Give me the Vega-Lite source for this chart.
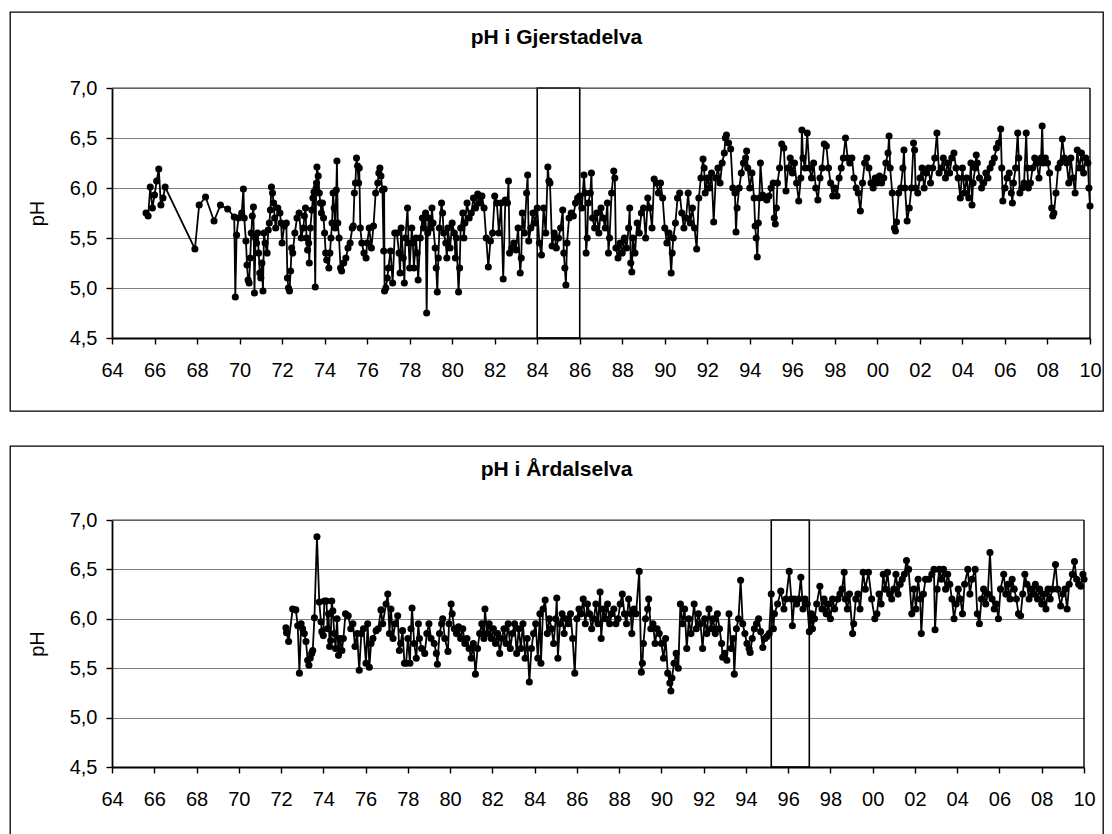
{
"$schema":"https://vega.github.io/schema/vega-lite/v6.json",
"padding":{"left":9,"top":11,"right":0,"bottom":0},
"background":"white",
"spacing":33,
"config":{
 "view":{"stroke":"#000000","strokeWidth":1.3},
 "font":"Liberation Sans",
 "axis":{"labelFont":"Liberation Sans","labelFontSize":20,"labelColor":"#000000","titleFont":"Liberation Sans","titleFontSize":20,"titleFontWeight":"normal","titleColor":"#000000","domainColor":"#000000","domainWidth":1.8,"tickColor":"#000000","tickWidth":1.4,"tickSize":6,"gridColor":"#808080","gridWidth":1},
 "title":{"font":"Liberation Sans","fontSize":21,"fontWeight":"bold","color":"#000000","anchor":"middle","baseline":"alphabetic"}
},
"datasets":{
"g":[
{"t":65.6,"p":5.75},{"t":65.7,"p":5.72},{"t":65.8,"p":6.01},{"t":65.9,"p":5.8},{"t":66.0,"p":5.93},{"t":66.1,"p":6.07},{"t":66.2,"p":6.19},{"t":66.3,"p":5.83},{"t":66.4,"p":5.9},{"t":66.5,"p":6.01},
{"t":67.9,"p":5.39},{"t":68.1,"p":5.83},{"t":68.4,"p":5.91},{"t":68.8,"p":5.67},{"t":69.1,"p":5.83},{"t":69.44,"p":5.79},{"t":69.75,"p":5.71},{"t":69.8,"p":4.91},{"t":69.86,"p":5.53},{"t":69.95,"p":5.7},
{"t":70.1,"p":5.75},{"t":70.18,"p":5.99},{"t":70.22,"p":5.7},{"t":70.3,"p":5.47},{"t":70.35,"p":5.23},{"t":70.4,"p":5.08},{"t":70.45,"p":5.05},{"t":70.5,"p":5.3},{"t":70.55,"p":5.55},{"t":70.6,"p":5.72},{"t":70.65,"p":5.81},{"t":70.7,"p":4.95},{"t":70.75,"p":5.5},{"t":70.8,"p":5.45},{"t":70.85,"p":5.55},{"t":70.9,"p":5.35},{"t":70.95,"p":5.15},{"t":71.0,"p":5.1},{"t":71.05,"p":5.25},{"t":71.1,"p":4.97},{"t":71.15,"p":5.55},{"t":71.2,"p":5.45},{"t":71.3,"p":5.35},{"t":71.35,"p":5.58},{"t":71.4,"p":5.65},{"t":71.45,"p":5.78},{"t":71.5,"p":6.01},{"t":71.55,"p":5.95},{"t":71.6,"p":5.85},{"t":71.65,"p":5.7},{"t":71.7,"p":5.6},{"t":71.8,"p":5.8},{"t":71.9,"p":5.75},{"t":71.95,"p":5.65},{"t":72.0,"p":5.45},{"t":72.1,"p":5.62},{"t":72.2,"p":5.65},{"t":72.25,"p":5.1},{"t":72.3,"p":5.0},{"t":72.35,"p":4.97},{"t":72.4,"p":5.17},{"t":72.45,"p":5.4},{"t":72.5,"p":5.35},{"t":72.6,"p":5.55},{"t":72.7,"p":5.7},{"t":72.8,"p":5.75},{"t":72.9,"p":5.5},
{"t":73.0,"p":5.6},{"t":73.05,"p":5.72},{"t":73.1,"p":5.8},{"t":73.15,"p":5.5},{"t":73.2,"p":5.38},{"t":73.25,"p":5.45},{"t":73.28,"p":5.25},{"t":73.33,"p":5.6},{"t":73.4,"p":5.78},{"t":73.45,"p":5.9},{"t":73.5,"p":5.96},{"t":73.56,"p":5.01},{"t":73.6,"p":6.0},{"t":73.62,"p":6.05},{"t":73.64,"p":6.21},{"t":73.7,"p":6.12},{"t":73.75,"p":5.95},{"t":73.8,"p":5.85},{"t":73.85,"p":5.75},{"t":73.9,"p":5.85},{"t":73.95,"p":5.7},{"t":74.0,"p":5.55},{"t":74.05,"p":5.35},{"t":74.1,"p":5.28},{"t":74.2,"p":5.2},{"t":74.25,"p":5.35},{"t":74.3,"p":5.5},{"t":74.35,"p":5.65},{"t":74.4,"p":5.95},{"t":74.45,"p":5.8},{"t":74.5,"p":5.6},{"t":74.55,"p":5.98},{"t":74.58,"p":6.27},{"t":74.62,"p":5.65},{"t":74.68,"p":5.5},{"t":74.75,"p":5.2},{"t":74.8,"p":5.17},{"t":74.9,"p":5.25},{"t":75.0,"p":5.3},{"t":75.1,"p":5.4},{"t":75.2,"p":5.45},{"t":75.3,"p":5.6},{"t":75.35,"p":5.62},{"t":75.4,"p":5.95},{"t":75.45,"p":6.05},{"t":75.5,"p":6.3},{"t":75.55,"p":6.22},{"t":75.6,"p":6.05},{"t":75.63,"p":6.2},{"t":75.68,"p":5.6},{"t":75.75,"p":5.45},{"t":75.85,"p":5.35},{"t":75.95,"p":5.3},{"t":76.0,"p":5.45},{"t":76.1,"p":5.6},{"t":76.2,"p":5.4},{"t":76.3,"p":5.62},{"t":76.4,"p":5.95},{"t":76.5,"p":6.05},{"t":76.55,"p":6.15},{"t":76.6,"p":6.2},{"t":76.65,"p":6.12},{"t":76.72,"p":5.98},{"t":76.78,"p":5.37},{"t":76.8,"p":5.99},{"t":76.82,"p":4.97},{"t":76.88,"p":5.0},{"t":76.95,"p":5.1},{"t":77.0,"p":5.2},{"t":77.1,"p":5.37},{"t":77.2,"p":5.05},{"t":77.3,"p":5.55},
{"t":77.4,"p":5.55},{"t":77.5,"p":5.35},{"t":77.55,"p":5.15},{"t":77.6,"p":5.6},{"t":77.7,"p":5.3},{"t":77.75,"p":5.05},{"t":77.8,"p":5.5},{"t":77.9,"p":5.8},{"t":77.95,"p":5.45},{"t":78.0,"p":5.2},{"t":78.1,"p":5.6},{"t":78.15,"p":5.45},{"t":78.2,"p":5.2},{"t":78.3,"p":5.5},{"t":78.35,"p":5.35},{"t":78.4,"p":5.08},{"t":78.5,"p":5.5},{"t":78.6,"p":5.7},{"t":78.65,"p":5.6},{"t":78.75,"p":5.75},{"t":78.8,"p":4.75},{"t":78.85,"p":5.55},{"t":78.9,"p":5.7},{"t":79.0,"p":5.6},{"t":79.05,"p":5.8},{"t":79.1,"p":5.65},{"t":79.2,"p":5.4},{"t":79.25,"p":5.2},{"t":79.3,"p":4.96},{"t":79.35,"p":5.3},{"t":79.4,"p":5.6},{"t":79.5,"p":5.85},{"t":79.55,"p":5.75},{"t":79.6,"p":5.55},{"t":79.7,"p":5.45},{"t":79.75,"p":5.3},{"t":79.8,"p":5.6},{"t":79.9,"p":5.4},{"t":80.0,"p":5.65},{"t":80.1,"p":5.55},{"t":80.15,"p":5.3},{"t":80.2,"p":5.5},{"t":80.3,"p":4.96},{"t":80.35,"p":5.2},{"t":80.4,"p":5.6},{"t":80.5,"p":5.75},{"t":80.55,"p":5.5},{"t":80.6,"p":5.65},{"t":80.7,"p":5.85},{"t":80.8,"p":5.7},{"t":80.9,"p":5.75},{"t":81.0,"p":5.9},{"t":81.1,"p":5.8},{"t":81.2,"p":5.94},{"t":81.3,"p":5.85},{"t":81.4,"p":5.92},{"t":81.5,"p":5.8},{"t":81.6,"p":5.5},{"t":81.7,"p":5.21},{"t":81.8,"p":5.47},{"t":81.9,"p":5.55},{"t":82.0,"p":5.92},{"t":82.1,"p":5.85},{"t":82.2,"p":5.55},{"t":82.3,"p":5.85},{"t":82.4,"p":5.09},{"t":82.5,"p":5.88},{"t":82.6,"p":5.85},{"t":82.65,"p":6.07},{"t":82.7,"p":5.35},{"t":82.8,"p":5.4},{"t":82.9,"p":5.45},{"t":83.0,"p":5.38},{"t":83.1,"p":5.6},{"t":83.2,"p":5.15},{"t":83.25,"p":5.3},{"t":83.3,"p":5.75},{"t":83.4,"p":5.55},{"t":83.5,"p":5.95},{"t":83.55,"p":6.13},{"t":83.6,"p":5.47},{"t":83.7,"p":5.6},{"t":83.8,"p":5.75},{"t":83.9,"p":5.65},{"t":84.0,"p":5.8},{"t":84.1,"p":5.45},{"t":84.2,"p":5.33},{"t":84.3,"p":5.8},{"t":84.4,"p":5.55},{"t":84.5,"p":6.21},{"t":84.55,"p":6.07},{"t":84.6,"p":6.05},{"t":84.7,"p":5.42},{"t":84.8,"p":5.55},{"t":84.9,"p":5.4},{"t":85.0,"p":5.5},{"t":85.1,"p":5.6},{"t":85.2,"p":5.78},{"t":85.25,"p":5.35},{"t":85.3,"p":5.2},{"t":85.35,"p":5.03},{"t":85.4,"p":5.45},{"t":85.5,"p":5.7},{"t":85.6,"p":5.75},{"t":85.7,"p":5.72},{"t":85.8,"p":5.85},{"t":85.9,"p":5.9},{"t":86.0,"p":5.92},{"t":86.1,"p":5.8},{"t":86.2,"p":6.13},{"t":86.25,"p":5.95},{"t":86.3,"p":5.35},{"t":86.35,"p":5.5},{"t":86.4,"p":5.85},{"t":86.5,"p":5.95},{"t":86.55,"p":6.15},{"t":86.6,"p":5.7},{"t":86.7,"p":5.6},{"t":86.8,"p":5.75},{"t":86.9,"p":5.55},{"t":87.0,"p":5.8},{"t":87.1,"p":5.7},{"t":87.2,"p":5.6},{"t":87.3,"p":5.85},{"t":87.35,"p":5.35},{"t":87.4,"p":5.5},{"t":87.5,"p":5.95},{"t":87.6,"p":6.17},{"t":87.65,"p":6.1},{"t":87.7,"p":5.4},{"t":87.8,"p":5.3},{"t":87.9,"p":5.45},{"t":88.0,"p":5.35},{"t":88.1,"p":5.5},{"t":88.2,"p":5.4},{"t":88.3,"p":5.6},{"t":88.35,"p":5.8},{"t":88.4,"p":5.25},{"t":88.45,"p":5.16},{"t":88.5,"p":5.5},{"t":88.6,"p":5.35},{"t":88.7,"p":5.65},{"t":88.8,"p":5.55},{"t":88.9,"p":5.75},{"t":89.0,"p":5.8},{"t":89.1,"p":5.5},{"t":89.2,"p":5.9},{"t":89.3,"p":5.8},{"t":89.4,"p":5.6},{"t":89.5,"p":6.09},{"t":89.6,"p":6.05},{"t":89.7,"p":5.95},{"t":89.8,"p":6.05},{"t":89.9,"p":5.9},{"t":90.0,"p":5.6},{"t":90.1,"p":5.45},{"t":90.2,"p":5.55},{"t":90.3,"p":5.15},{"t":90.35,"p":5.35},{"t":90.4,"p":5.5},{"t":90.5,"p":5.65},{"t":90.6,"p":5.9},{"t":90.7,"p":5.95},{"t":90.8,"p":5.75},{"t":90.9,"p":5.6},{"t":91.0,"p":5.7},{"t":91.1,"p":5.95},{"t":91.2,"p":5.65},{"t":91.3,"p":5.8},{"t":91.4,"p":5.6},{"t":91.5,"p":5.39},{"t":91.6,"p":5.9},{"t":91.7,"p":6.1},{"t":91.8,"p":6.29},{"t":91.85,"p":6.2},{"t":91.9,"p":5.95},{"t":92.0,"p":6.1},{"t":92.1,"p":6.0},{"t":92.2,"p":6.15},{"t":92.3,"p":5.66},{"t":92.4,"p":6.1},{"t":92.5,"p":6.2},{"t":92.6,"p":6.05},{"t":92.7,"p":6.25},{"t":92.8,"p":6.35},{"t":92.85,"p":6.5},{"t":92.9,"p":6.53},{"t":93.0,"p":6.45},{"t":93.1,"p":6.39},{"t":93.2,"p":6.0},{"t":93.3,"p":5.95},{"t":93.35,"p":5.56},{"t":93.4,"p":5.8},{"t":93.5,"p":6.0},{"t":93.6,"p":6.15},{"t":93.7,"p":6.25},{"t":93.8,"p":6.3},{"t":93.85,"p":6.37},{"t":93.9,"p":6.2},{"t":94.0,"p":6.0},{"t":94.1,"p":6.15},{"t":94.2,"p":5.9},{"t":94.25,"p":5.62},{"t":94.3,"p":5.5},{"t":94.35,"p":5.31},{"t":94.4,"p":5.65},{"t":94.45,"p":5.9},{"t":94.5,"p":6.25},{"t":94.6,"p":5.93},{"t":94.7,"p":5.9},{"t":94.8,"p":5.88},{"t":94.9,"p":5.92},{"t":95.0,"p":6.0},{"t":95.1,"p":6.05},{"t":95.15,"p":5.7},{"t":95.2,"p":5.64},{"t":95.25,"p":5.8},{"t":95.3,"p":6.05},{"t":95.4,"p":6.2},{"t":95.5,"p":6.44},{"t":95.6,"p":6.4},{"t":95.7,"p":5.97},{"t":95.8,"p":6.2},{"t":95.9,"p":6.3},{"t":96.0,"p":6.15},{"t":96.1,"p":6.25},{"t":96.2,"p":6.05},{"t":96.3,"p":5.87},{"t":96.4,"p":6.1},{"t":96.45,"p":6.58},{"t":96.5,"p":6.3},{"t":96.6,"p":6.2},{"t":96.7,"p":6.55},{"t":96.8,"p":6.2},{"t":96.9,"p":6.1},{"t":97.0,"p":6.25},{"t":97.1,"p":6.0},{"t":97.2,"p":5.88},{"t":97.3,"p":6.1},{"t":97.4,"p":6.2},{"t":97.5,"p":6.44},{"t":97.6,"p":6.42},{"t":97.7,"p":6.2},{"t":97.8,"p":6.05},{"t":97.9,"p":5.92},{"t":98.0,"p":6.0},{"t":98.1,"p":5.92},{"t":98.2,"p":6.1},{"t":98.3,"p":6.2},{"t":98.4,"p":6.3},{"t":98.5,"p":6.5},{"t":98.6,"p":6.3},{"t":98.7,"p":6.25},{"t":98.8,"p":6.3},{"t":98.9,"p":6.1},{"t":99.0,"p":6.0},{"t":99.1,"p":5.95},{"t":99.2,"p":5.77},{"t":99.3,"p":6.05},{"t":99.4,"p":6.25},{"t":99.5,"p":6.3},{"t":99.6,"p":6.2},{"t":99.7,"p":6.05},{"t":99.8,"p":6.0},{"t":99.9,"p":6.1},{"t":100.0,"p":6.05},{"t":100.1,"p":6.12},{"t":100.2,"p":6.05},{"t":100.3,"p":6.1},{"t":100.4,"p":6.25},{"t":100.5,"p":6.35},{"t":100.55,"p":6.52},{"t":100.6,"p":6.2},{"t":100.7,"p":5.95},{"t":100.8,"p":5.6},{"t":100.85,"p":5.57},{"t":100.9,"p":5.66},{"t":101.0,"p":5.95},{"t":101.1,"p":6.0},{"t":101.2,"p":6.2},{"t":101.25,"p":6.38},{"t":101.3,"p":6.0},{"t":101.4,"p":5.67},{"t":101.5,"p":5.8},{"t":101.6,"p":6.0},{"t":101.7,"p":6.45},{"t":101.75,"p":6.38},{"t":101.8,"p":6.0},{"t":101.9,"p":5.95},{"t":102.0,"p":6.1},{"t":102.1,"p":6.2},{"t":102.2,"p":6.0},{"t":102.3,"p":6.15},{"t":102.4,"p":6.2},{"t":102.5,"p":6.05},{"t":102.6,"p":6.2},{"t":102.7,"p":6.3},{"t":102.8,"p":6.55},{"t":102.9,"p":6.15},{"t":103.0,"p":6.2},{"t":103.1,"p":6.3},{"t":103.2,"p":6.1},{"t":103.3,"p":6.25},{"t":103.4,"p":6.15},{"t":103.5,"p":6.3},{"t":103.6,"p":6.35},{"t":103.7,"p":6.2},{"t":103.8,"p":6.1},{"t":103.9,"p":5.9},{"t":104.0,"p":6.2},{"t":104.1,"p":5.95},{"t":104.2,"p":6.1},{"t":104.3,"p":5.9},{"t":104.4,"p":6.25},{"t":104.45,"p":5.83},{"t":104.5,"p":6.05},{"t":104.6,"p":6.2},{"t":104.65,"p":6.33},{"t":104.7,"p":6.25},{"t":104.8,"p":6.1},{"t":104.9,"p":6.0},{"t":105.0,"p":6.05},{"t":105.1,"p":6.15},{"t":105.2,"p":6.1},{"t":105.3,"p":6.2},{"t":105.4,"p":6.25},{"t":105.5,"p":6.3},{"t":105.6,"p":6.4},{"t":105.7,"p":6.45},{"t":105.8,"p":6.59},{"t":105.85,"p":6.2},{"t":105.9,"p":5.87},{"t":106.0,"p":6.0},{"t":106.1,"p":6.1},{"t":106.2,"p":6.15},{"t":106.3,"p":5.95},{"t":106.35,"p":5.85},{"t":106.4,"p":6.05},{"t":106.5,"p":6.2},{"t":106.6,"p":6.55},{"t":106.65,"p":6.3},{"t":106.7,"p":5.95},{"t":106.8,"p":6.0},{"t":106.9,"p":6.05},{"t":107.0,"p":6.55},{"t":107.05,"p":6.2},{"t":107.1,"p":6.0},{"t":107.2,"p":6.05},{"t":107.3,"p":6.2},{"t":107.4,"p":6.3},{"t":107.5,"p":6.25},{"t":107.6,"p":6.1},{"t":107.7,"p":6.3},{"t":107.75,"p":6.62},{"t":107.8,"p":6.25},{"t":107.9,"p":6.3},{"t":108.0,"p":6.25},{"t":108.1,"p":6.15},{"t":108.2,"p":5.8},{"t":108.25,"p":5.72},{"t":108.3,"p":5.75},{"t":108.4,"p":5.95},{"t":108.5,"p":6.2},{"t":108.6,"p":6.25},{"t":108.7,"p":6.49},{"t":108.8,"p":6.3},{"t":108.9,"p":6.25},{"t":109.0,"p":6.05},{"t":109.1,"p":6.3},{"t":109.2,"p":6.1},{"t":109.3,"p":5.95},{"t":109.4,"p":6.38},{"t":109.5,"p":6.2},{"t":109.6,"p":6.35},{"t":109.7,"p":6.15},{"t":109.8,"p":6.3},{"t":109.9,"p":6.25},{"t":109.95,"p":6.0},{"t":110.0,"p":5.82}
],
"a":[
{"t":72.23,"p":5.91},{"t":72.26,"p":5.86},{"t":72.36,"p":5.77},{"t":72.55,"p":6.1},{"t":72.7,"p":6.09},{"t":72.79,"p":5.93},{"t":72.87,"p":5.45},{"t":72.95,"p":5.95},{"t":73.02,"p":5.9},{"t":73.1,"p":5.85},{"t":73.18,"p":5.77},{"t":73.26,"p":5.58},{"t":73.32,"p":5.53},{"t":73.38,"p":5.6},{"t":73.45,"p":5.65},{"t":73.5,"p":5.68},{"t":73.58,"p":6.01},{"t":73.7,"p":6.83},{"t":73.81,"p":6.17},{"t":73.89,"p":5.97},{"t":73.93,"p":5.87},{"t":74.0,"p":5.83},{"t":74.05,"p":6.18},{"t":74.15,"p":6.18},{"t":74.2,"p":5.9},{"t":74.25,"p":6.05},{"t":74.3,"p":5.72},{"t":74.35,"p":5.78},{"t":74.4,"p":6.18},{"t":74.45,"p":6.08},{"t":74.52,"p":5.85},{"t":74.58,"p":5.7},{"t":74.65,"p":6.0},{"t":74.72,"p":5.63},{"t":74.8,"p":5.8},{"t":74.88,"p":5.68},{"t":74.95,"p":5.8},{"t":75.05,"p":6.05},{"t":75.18,"p":6.03},{"t":75.3,"p":5.9},{"t":75.4,"p":5.95},{"t":75.5,"p":5.72},{"t":75.6,"p":5.85},{"t":75.7,"p":5.48},{"t":75.8,"p":5.85},{"t":75.9,"p":5.9},{"t":76.02,"p":5.55},{"t":76.1,"p":5.95},{"t":76.18,"p":5.51},{"t":76.26,"p":5.75},{"t":76.35,"p":5.8},{"t":76.5,"p":5.88},{"t":76.6,"p":5.9},{"t":76.73,"p":6.09},{"t":76.81,"p":5.95},{"t":76.97,"p":6.15},{"t":77.05,"p":6.25},{"t":77.13,"p":5.85},{"t":77.2,"p":6.1},{"t":77.3,"p":5.8},{"t":77.4,"p":5.95},{"t":77.52,"p":6.03},{"t":77.6,"p":5.68},{"t":77.66,"p":5.75},{"t":77.75,"p":5.88},{"t":77.84,"p":5.55},{"t":77.92,"p":5.55},{"t":78.0,"p":5.8},{"t":78.1,"p":5.55},{"t":78.15,"p":5.9},{"t":78.2,"p":6.11},{"t":78.3,"p":5.75},{"t":78.4,"p":5.6},{"t":78.5,"p":5.95},{"t":78.55,"p":5.8},{"t":78.65,"p":5.7},{"t":78.8,"p":5.65},{"t":78.9,"p":5.85},{"t":79.0,"p":5.95},{"t":79.1,"p":5.8},{"t":79.25,"p":5.75},{"t":79.35,"p":5.65},{"t":79.4,"p":5.54},{"t":79.5,"p":5.85},{"t":79.6,"p":5.95},{"t":79.65,"p":6.0},{"t":79.75,"p":5.8},{"t":79.9,"p":5.67},{"t":79.95,"p":5.95},{"t":80.05,"p":6.15},{"t":80.1,"p":6.05},{"t":80.2,"p":5.9},{"t":80.3,"p":5.85},{"t":80.4,"p":5.92},{"t":80.5,"p":5.8},{"t":80.6,"p":5.9},{"t":80.7,"p":5.75},{"t":80.8,"p":5.8},{"t":80.9,"p":5.7},{"t":81.0,"p":5.6},{"t":81.1,"p":5.75},{"t":81.2,"p":5.44},{"t":81.3,"p":5.7},{"t":81.4,"p":5.85},{"t":81.5,"p":5.95},{"t":81.6,"p":5.8},{"t":81.65,"p":6.1},{"t":81.75,"p":5.85},{"t":81.85,"p":5.95},{"t":81.95,"p":5.8},{"t":82.05,"p":5.9},{"t":82.15,"p":5.75},{"t":82.25,"p":5.85},{"t":82.35,"p":5.65},{"t":82.45,"p":5.8},{"t":82.55,"p":5.9},{"t":82.65,"p":5.75},{"t":82.75,"p":5.95},{"t":82.85,"p":5.7},{"t":82.95,"p":5.85},{"t":83.05,"p":5.95},{"t":83.15,"p":5.65},{"t":83.25,"p":5.9},{"t":83.35,"p":5.7},{"t":83.45,"p":5.95},{"t":83.55,"p":5.6},{"t":83.65,"p":5.8},{"t":83.75,"p":5.36},{"t":83.85,"p":5.7},{"t":83.95,"p":5.85},{"t":84.05,"p":5.95},{"t":84.15,"p":5.6},{"t":84.25,"p":6.05},{"t":84.3,"p":5.55},{"t":84.4,"p":6.1},{"t":84.5,"p":6.19},{"t":84.6,"p":5.85},{"t":84.7,"p":6.0},{"t":84.8,"p":5.9},{"t":84.9,"p":5.75},{"t":85.0,"p":6.0},{"t":85.05,"p":6.21},{"t":85.1,"p":5.6},{"t":85.2,"p":5.95},{"t":85.3,"p":6.05},{"t":85.4,"p":5.85},{"t":85.5,"p":6.0},{"t":85.6,"p":5.95},{"t":85.7,"p":6.05},{"t":85.8,"p":5.8},{"t":85.9,"p":5.45},{"t":86.0,"p":6.0},{"t":86.1,"p":6.1},{"t":86.2,"p":6.05},{"t":86.3,"p":6.2},{"t":86.4,"p":5.95},{"t":86.5,"p":6.15},{"t":86.6,"p":6.05},{"t":86.7,"p":5.9},{"t":86.8,"p":6.0},{"t":86.9,"p":6.15},{"t":87.0,"p":5.95},{"t":87.1,"p":6.27},{"t":87.15,"p":5.8},{"t":87.25,"p":6.1},{"t":87.35,"p":6.0},{"t":87.45,"p":6.15},{"t":87.55,"p":5.95},{"t":87.65,"p":6.05},{"t":87.75,"p":6.1},{"t":87.85,"p":5.95},{"t":87.95,"p":6.0},{"t":88.05,"p":6.15},{"t":88.15,"p":6.25},{"t":88.25,"p":6.05},{"t":88.35,"p":5.95},{"t":88.45,"p":6.2},{"t":88.55,"p":6.05},{"t":88.6,"p":5.85},{"t":88.7,"p":6.1},{"t":88.8,"p":6.05},{"t":88.95,"p":6.48},{"t":89.05,"p":5.46},{"t":89.1,"p":5.55},{"t":89.15,"p":5.75},{"t":89.25,"p":6.0},{"t":89.35,"p":6.1},{"t":89.4,"p":6.2},{"t":89.5,"p":5.9},{"t":89.6,"p":5.95},{"t":89.7,"p":5.75},{"t":89.8,"p":5.9},{"t":89.9,"p":5.85},{"t":90.0,"p":5.75},{"t":90.1,"p":5.6},{"t":90.2,"p":5.8},{"t":90.3,"p":5.45},{"t":90.4,"p":5.35},{"t":90.45,"p":5.27},{"t":90.5,"p":5.4},{"t":90.6,"p":5.55},{"t":90.7,"p":5.65},{"t":90.8,"p":5.5},{"t":90.9,"p":6.15},{"t":91.0,"p":5.95},{"t":91.1,"p":6.1},{"t":91.2,"p":5.7},{"t":91.3,"p":6.0},{"t":91.4,"p":5.85},{"t":91.55,"p":6.15},{"t":91.65,"p":5.9},{"t":91.75,"p":6.05},{"t":91.85,"p":5.95},{"t":91.95,"p":5.7},{"t":92.05,"p":6.0},{"t":92.15,"p":5.85},{"t":92.25,"p":6.1},{"t":92.35,"p":5.9},{"t":92.45,"p":6.0},{"t":92.55,"p":5.85},{"t":92.65,"p":6.05},{"t":92.75,"p":5.9},{"t":92.85,"p":5.75},{"t":92.9,"p":5.61},{"t":93.0,"p":5.65},{"t":93.1,"p":5.58},{"t":93.2,"p":6.05},{"t":93.3,"p":5.7},{"t":93.4,"p":5.8},{"t":93.45,"p":5.44},{"t":93.55,"p":5.9},{"t":93.65,"p":6.0},{"t":93.75,"p":6.39},{"t":93.85,"p":5.95},{"t":93.95,"p":5.85},{"t":94.05,"p":5.75},{"t":94.15,"p":5.7},{"t":94.2,"p":5.66},{"t":94.3,"p":5.8},{"t":94.4,"p":5.9},{"t":94.5,"p":5.95},{"t":94.6,"p":6.0},{"t":94.7,"p":5.87},{"t":94.8,"p":5.71},{"t":94.9,"p":5.8},{"t":95.0,"p":5.82},{"t":95.1,"p":5.85},{"t":95.2,"p":6.25},{"t":95.3,"p":5.9},{"t":95.35,"p":6.05},{"t":95.5,"p":6.15},{"t":95.65,"p":6.28},{"t":95.8,"p":6.1},{"t":95.9,"p":6.2},{"t":96.05,"p":6.48},{"t":96.15,"p":6.2},{"t":96.2,"p":5.93},{"t":96.3,"p":6.2},{"t":96.4,"p":6.15},{"t":96.5,"p":6.2},{"t":96.6,"p":6.42},{"t":96.7,"p":6.1},{"t":96.8,"p":6.2},{"t":96.9,"p":6.15},{"t":97.0,"p":5.87},{"t":97.1,"p":6.05},{"t":97.15,"p":5.9},{"t":97.25,"p":6.0},{"t":97.35,"p":6.15},{"t":97.5,"p":6.33},{"t":97.6,"p":6.1},{"t":97.7,"p":6.2},{"t":97.8,"p":6.05},{"t":97.9,"p":6.15},{"t":98.0,"p":6.0},{"t":98.1,"p":6.2},{"t":98.2,"p":6.1},{"t":98.35,"p":6.2},{"t":98.45,"p":6.25},{"t":98.55,"p":6.3},{"t":98.65,"p":6.47},{"t":98.7,"p":6.2},{"t":98.8,"p":6.1},{"t":98.9,"p":6.25},{"t":99.05,"p":5.85},{"t":99.1,"p":5.95},{"t":99.2,"p":6.2},{"t":99.3,"p":6.25},{"t":99.4,"p":6.1},{"t":99.55,"p":6.47},{"t":99.65,"p":6.3},{"t":99.8,"p":6.47},{"t":99.95,"p":6.2},{"t":100.1,"p":6.0},{"t":100.2,"p":6.05},{"t":100.3,"p":6.25},{"t":100.4,"p":6.15},{"t":100.5,"p":6.45},{"t":100.6,"p":6.3},{"t":100.7,"p":6.47},{"t":100.8,"p":6.25},{"t":100.9,"p":6.2},{"t":101.0,"p":6.3},{"t":101.1,"p":6.45},{"t":101.2,"p":6.25},{"t":101.3,"p":6.35},{"t":101.4,"p":6.4},{"t":101.5,"p":6.45},{"t":101.6,"p":6.59},{"t":101.7,"p":6.5},{"t":101.85,"p":6.05},{"t":101.95,"p":6.3},{"t":102.05,"p":6.1},{"t":102.15,"p":6.4},{"t":102.25,"p":6.2},{"t":102.3,"p":5.85},{"t":102.4,"p":6.25},{"t":102.5,"p":6.4},{"t":102.65,"p":6.4},{"t":102.8,"p":6.45},{"t":102.9,"p":6.5},{"t":102.95,"p":5.89},{"t":103.05,"p":6.3},{"t":103.15,"p":6.5},{"t":103.25,"p":6.4},{"t":103.35,"p":6.5},{"t":103.45,"p":6.3},{"t":103.55,"p":6.45},{"t":103.65,"p":6.35},{"t":103.75,"p":6.2},{"t":103.85,"p":6.0},{"t":103.95,"p":6.15},{"t":104.05,"p":6.3},{"t":104.15,"p":6.2},{"t":104.25,"p":6.05},{"t":104.35,"p":6.35},{"t":104.5,"p":6.5},{"t":104.6,"p":6.25},{"t":104.7,"p":6.4},{"t":104.85,"p":6.5},{"t":104.95,"p":6.05},{"t":105.05,"p":5.95},{"t":105.15,"p":6.2},{"t":105.25,"p":6.3},{"t":105.35,"p":6.15},{"t":105.45,"p":6.25},{"t":105.55,"p":6.67},{"t":105.65,"p":6.2},{"t":105.75,"p":6.1},{"t":105.85,"p":6.15},{"t":105.95,"p":6.0},{"t":106.05,"p":6.3},{"t":106.2,"p":6.45},{"t":106.3,"p":6.25},{"t":106.4,"p":6.35},{"t":106.5,"p":6.2},{"t":106.6,"p":6.4},{"t":106.7,"p":6.3},{"t":106.8,"p":6.2},{"t":106.9,"p":6.05},{"t":107.0,"p":6.03},{"t":107.1,"p":6.25},{"t":107.2,"p":6.45},{"t":107.3,"p":6.35},{"t":107.4,"p":6.2},{"t":107.5,"p":6.3},{"t":107.6,"p":6.25},{"t":107.7,"p":6.35},{"t":107.8,"p":6.2},{"t":107.9,"p":6.3},{"t":108.0,"p":6.15},{"t":108.1,"p":6.25},{"t":108.2,"p":6.1},{"t":108.3,"p":6.3},{"t":108.4,"p":6.2},{"t":108.5,"p":6.3},{"t":108.65,"p":6.55},{"t":108.75,"p":6.3},{"t":108.9,"p":6.13},{"t":109.0,"p":6.25},{"t":109.1,"p":6.3},{"t":109.2,"p":6.1},{"t":109.3,"p":6.35},{"t":109.45,"p":6.45},{"t":109.55,"p":6.58},{"t":109.65,"p":6.4},{"t":109.75,"p":6.35},{"t":109.85,"p":6.33},{"t":109.95,"p":6.45},{"t":110.0,"p":6.4}
]
},
"vconcat":[
{
 "width":1093,"height":399,
 "title":{"text":"pH i Gjerstadelva","offset":-36},
 "layer":[
  {"data":{"name":"g"},
   "mark":{"type":"line","color":"#000000","strokeWidth":1.8,"point":{"filled":true,"size":50,"color":"#000000","opacity":1}},
   "encoding":{
    "x":{"field":"t","type":"quantitative","scale":{"domain":[64,110],"range":[102,1080],"nice":false,"zero":false},
     "axis":{"values":[64,66,68,70,72,74,76,78,80,82,84,86,88,90,92,94,96,98,100,102,104,106,108,110],"offset":-73,"labelExpr":"format(datum.value % 100, '02d')","grid":false,"title":null,"labelPadding":16,"labelFlush":false,"labelOverlap":false}},
    "y":{"field":"p","type":"quantitative","scale":{"domain":[4.5,7],"range":[326,76],"nice":false,"zero":false},
     "axis":{"values":[4.5,5,5.5,6,6.5,7],"offset":-102,"labelExpr":"replace(format(datum.value, '.1f'), '.', ',')","grid":true,"title":"pH","labelPadding":9,"titleX":-75,"titleBaseline":"middle","labelFlush":false}}
   }},
  {"data":{"values":[{}]},
   "mark":{"type":"rect","fillOpacity":0,"stroke":"#000000","strokeWidth":1.6},
   "encoding":{"x":{"datum":84},"x2":{"datum":86},"y":{"datum":4.5},"y2":{"datum":7}}},
  {"data":{"values":[{}]},
   "mark":{"type":"rule","color":"#000000","strokeWidth":1.4},
   "encoding":{"x":{"datum":110},"y":{"datum":4.5},"y2":{"datum":7}}},
  {"data":{"values":[{}]},
   "mark":{"type":"rule","color":"#404040","strokeWidth":1.2},
   "encoding":{"y":{"datum":7},"x":{"datum":64},"x2":{"datum":110}}}
 ]
},
{
 "width":1093,"height":390,
 "title":{"text":"pH i Årdalselva","offset":-34},
 "layer":[
  {"data":{"name":"a"},
   "mark":{"type":"line","color":"#000000","strokeWidth":1.8,"point":{"filled":true,"size":50,"color":"#000000","opacity":1}},
   "encoding":{
    "x":{"field":"t","type":"quantitative","scale":{"domain":[64,110],"range":[102,1074],"nice":false,"zero":false},
     "axis":{"values":[64,66,68,70,72,74,76,78,80,82,84,86,88,90,92,94,96,98,100,102,104,106,108,110],"offset":-69,"labelExpr":"format(datum.value % 100, '02d')","grid":false,"title":null,"labelPadding":16,"labelFlush":false,"labelOverlap":false}},
    "y":{"field":"p","type":"quantitative","scale":{"domain":[4.5,7],"range":[321,74],"nice":false,"zero":false},
     "axis":{"values":[4.5,5,5.5,6,6.5,7],"offset":-102,"labelExpr":"replace(format(datum.value, '.1f'), '.', ',')","grid":true,"title":"pH","labelPadding":9,"titleX":-75,"titleBaseline":"middle","labelFlush":false}}
   }},
  {"data":{"values":[{}]},
   "mark":{"type":"rect","fillOpacity":0,"stroke":"#000000","strokeWidth":1.6},
   "encoding":{"x":{"datum":95.2},"x2":{"datum":97.0},"y":{"datum":4.5},"y2":{"datum":7}}},
  {"data":{"values":[{}]},
   "mark":{"type":"rule","color":"#000000","strokeWidth":1.4},
   "encoding":{"x":{"datum":110},"y":{"datum":4.5},"y2":{"datum":7}}},
  {"data":{"values":[{}]},
   "mark":{"type":"rule","color":"#404040","strokeWidth":1.2},
   "encoding":{"y":{"datum":7},"x":{"datum":64},"x2":{"datum":110}}}
 ]
}
]
}
